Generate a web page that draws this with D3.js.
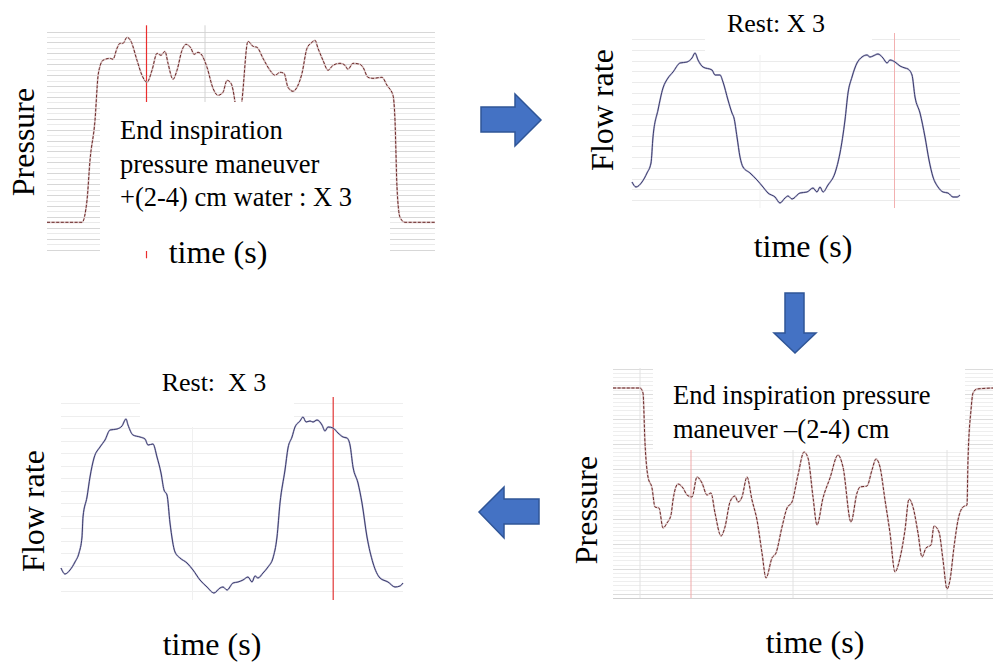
<!DOCTYPE html>
<html>
<head>
<meta charset="utf-8">
<script src="https://cdn.jsdelivr.net/npm/d3@7"></script>
<style>
  body { margin: 0; background: #fff; }
  svg { display: block; }
  text { font-family: "Liberation Serif", "Times New Roman", serif; fill: #000; }
</style>
</head>
<body>
<svg id="fig" width="994" height="663"></svg>
<script>
// ---- Recorded traces (time in samples, signal in arbitrary units) ----

// Pressure during the positive end-inspiration maneuver, +(2-4) cm water
const posTime = [0,35,40,43,48,51,53,56,63,66,70,73,76,80,84,90,95,100,105,110,114,118,121,126,130,135,139,144,147,151,155,160,166,171,176,180,184,188,191,195,201,206,210,216,223,228,233,237,241,246,250,255,260,265,268,271,276,281,286,293,298,301,306,313,316,321,326,335,340,346,348,350,353,358,370,388];
const posPressure = [0,0,22,62,102,146,156,162,164,163,174,179,179,185,181,162,147,140,152,169,167,171,159,143,152,172,178,174,168,170,167,155,134,127,130,142,139,120,92,122,181,176,175,164,152,147,150,149,135,131,135,149,174,180,182,174,162,152,157,159,157,153,159,158,155,145,144,145,137,127,102,35,5,0,0,0];

// Flow rate at rest, first recording
const restATime = [0,4,10,15,19,21,26,31,36,41,48,55,60,63,66,71,80,83,88,91,96,100,102,105,108,111,118,125,131,136,143,148,153,156,160,168,175,181,185,188,191,196,203,208,213,216,220,225,230,235,238,241,246,251,255,258,263,268,273,276,280,283,288,293,297,301,306,311,316,321,325,328];
const restAFlow = [-52,-57,-52,-43,-33,-7,20,42,52,58,67,68,72,77,70,63,60,55,55,48,30,17,12,-7,-27,-37,-43,-50,-57,-63,-67,-73,-68,-66,-69,-63,-62,-58,-62,-57,-62,-55,-43,-23,10,37,53,67,73,75,73,74,76,72,67,70,68,64,62,61,55,33,17,-7,-30,-47,-57,-62,-63,-67,-67,-65];

// Pressure during the negative end-inspiration maneuver, -(2-4) cm
const negTime = [0,27,30,32,35,39,42,46,50,54,58,60,65,70,74,79,84,89,94,98,102,108,112,117,122,125,129,134,139,144,149,153,159,163,169,174,179,185,191,195,200,204,210,217,225,230,238,244,247,254,259,263,267,272,277,282,287,292,296,300,305,309,313,318,321,326,330,334,337,341,345,350,354,355,358,360,364,380];
const negPressure = [210,210,205,155,121,110,91,90,70,75,83,98,114,110,103,101,121,115,103,105,85,62,71,96,102,96,101,121,98,78,45,20,40,45,71,90,96,123,146,140,101,73,100,120,143,131,76,105,111,112,128,139,131,98,65,26,40,68,99,91,65,41,50,53,72,66,38,9,18,51,78,91,93,138,188,205,209,210];

// Flow rate at rest, second recording
const restBTime = [0,4,9,14,18,21,22,26,29,33,39,44,49,56,61,65,67,72,79,84,87,92,96,100,103,106,109,114,119,126,132,139,146,153,159,162,166,172,177,182,187,191,194,197,202,207,212,216,219,224,227,231,234,239,242,245,249,252,256,261,264,267,272,277,282,286,289,292,297,301,306,312,319,327,334,339,342];
const restBFlow = [-68,-74,-70,-62,-53,-37,-17,3,23,42,53,60,70,71,74,81,75,65,63,61,55,56,43,27,10,5,-23,-52,-58,-63,-70,-80,-87,-93,-88,-87,-90,-83,-82,-80,-77,-82,-76,-78,-73,-67,-58,-37,-3,30,52,63,73,79,83,78,79,78,80,75,69,73,72,67,63,62,55,33,17,-3,-37,-63,-78,-82,-87,-86,-83];

// Texts
const boxTextPos = ["End inspiration", "pressure maneuver", "+(2-4) cm water : X 3"];
const boxTextNeg = ["End inspiration pressure", "maneuver \u2013(2-4) cm"];
const restTitleA = "Rest: X 3";
const restTitleB = "Rest:  X 3";
const timeLabel = "time (s)";
const pressureLabel = "Pressure";
const flowLabel = "Flow rate";

// ---- Drawing ----
const svg = d3.select("#fig");

const pressureStyle = { halo: "#dcc6c6", color: "#6a2828", dash: "3 1.6" };
const flowStyle = { halo: "#bdbdd6", color: "#3a3a6c", dash: null };

function drawPanel(p) {
  const x = d3.scaleLinear().domain(p.xDomain).range(p.xRange);
  const y = d3.scaleLinear().domain(p.yDomain).range(p.yRange);
  const g = svg.append("g");

  // horizontal chart-paper rules
  const rules = d3.range(p.grid.count).map(k => p.grid.start + k * p.grid.step);
  rules.forEach((v, k) => {
    const segs = k < (p.grid.partialTop || 0) ? p.grid.partialSegs : [p.xDomain];
    segs.forEach(s => {
      g.append("line")
        .attr("x1", x(s[0])).attr("x2", x(s[1]))
        .attr("y1", Math.round(y(v)) + 0.5).attr("y2", Math.round(y(v)) + 0.5)
        .attr("stroke", p.grid.color(k)).attr("stroke-width", 1)
        .attr("shape-rendering", "crispEdges");
    });
  });

  if (p.axisLine) {
    g.append("line")
      .attr("x1", x(p.xDomain[0])).attr("x2", x(p.xDomain[1]))
      .attr("y1", Math.round(y(p.yDomain[0])) + 0.5).attr("y2", Math.round(y(p.yDomain[0])) + 0.5)
      .attr("stroke", p.axisLine).attr("shape-rendering", "crispEdges");
  }

  // vertical markers (time cursors)
  p.markers.forEach(m => {
    g.append("line")
      .attr("x1", x(m.t)).attr("x2", x(m.t))
      .attr("y1", y(m.v0)).attr("y2", y(m.v1))
      .style("stroke", m.color).style("stroke-width", m.width || 1);
  });

  // the trace
  const data = d3.zip(p.time, p.values);
  const line = d3.line().x(d => x(d[0])).y(d => y(d[1])).curve(d3.curveMonotoneX);
  g.append("path").datum(data).attr("d", line)
    .attr("fill", "none").attr("stroke", p.style.halo).attr("stroke-width", 1.8);
  const tr = g.append("path").datum(data).attr("d", line)
    .attr("fill", "none").attr("stroke", p.style.color).attr("stroke-width", 1);
  if (p.style.dash) tr.attr("stroke-dasharray", p.style.dash);

  // white caption box laid over the record
  if (p.box) {
    g.append("rect").attr("x", p.box.x).attr("y", p.box.y)
      .attr("width", p.box.w).attr("height", p.box.h).attr("fill", "#fff");
    p.box.lines.forEach((t, i) => {
      g.append("text").attr("x", p.box.tx).attr("y", p.box.ty + i * p.box.lh)
        .attr("font-size", p.box.fs).text(t);
    });
  }

  // axis titles
  g.append("text").attr("x", p.time_lbl[0]).attr("y", p.time_lbl[1])
    .attr("text-anchor", "middle").attr("font-size", 32).text(timeLabel);
  g.append("text")
    .attr("transform", `translate(${p.y_lbl[0]},${p.y_lbl[1]}) rotate(-90)`)
    .attr("text-anchor", "middle").attr("font-size", p.y_lbl[3]).text(p.y_lbl[2]);
  if (p.title) {
    g.append("text").attr("x", p.title[0]).attr("y", p.title[1])
      .attr("text-anchor", "middle").attr("font-size", 26)
      .style("white-space", "pre").text(p.title[2]);
  }
}

// Panel: positive pressure maneuver (top left)
drawPanel({
  xDomain: [0, 388], xRange: [47, 435],
  yDomain: [0, 200], yRange: [222.3, 22.3],
  time: posTime, values: posPressure, style: pressureStyle,
  grid: { start: 190.75, step: -5.45, count: 41, color: k => (k % 2 ? "#eaeaea" : "#d7d7d7") },
  markers: [
    { t: 158, v0: 197, v1: -30, color: "#d2d2d2" },
    { t: 99.5, v0: 197, v1: -36, color: "rgb(235,45,45)", width: 1.2 }
  ],
  box: { x: 100, y: 102, w: 290, h: 149, tx: 120, ty: 139, lh: 33.5, fs: 26.5, lines: boxTextPos },
  time_lbl: [218, 263],
  y_lbl: [34, 142, pressureLabel, 32]
});

// Panel: rest flow (top right)
drawPanel({
  xDomain: [0, 328], xRange: [632, 960],
  yDomain: [-70, 90], yRange: [200, 40],
  time: restATime, values: restAFlow, style: flowStyle,
  grid: { start: 90.7, step: -10.71, count: 16, partialTop: 2, partialSegs: [[0, 73], [240, 328]],
          color: k => "#ebebeb" },
  markers: [
    { t: 128, v0: 75, v1: -78, color: "#f1f1f1" },
    { t: 262.5, v0: 97, v1: -78, color: "#f2b0b0" }
  ],
  time_lbl: [803, 257],
  y_lbl: [613, 110, flowLabel, 32],
  title: [776, 31.5, restTitleA]
});

// Panel: negative pressure maneuver (bottom right)
drawPanel({
  xDomain: [0, 380], xRange: [613, 993],
  yDomain: [0, 230], yRange: [598, 368],
  time: negTime, values: negPressure, style: pressureStyle,
  grid: { start: 229.35, step: -4.17, count: 55, color: k => (k % 6 === 0 ? "#dcdcdc" : "#eeeeee") },
  axisLine: "#cfcfcf",
  markers: [
    { t: 27, v0: 230, v1: 0, color: "#e2e2e2" },
    { t: 180, v0: 148, v1: 0, color: "#e2e2e2" },
    { t: 334, v0: 148, v1: 0, color: "#e2e2e2" },
    { t: 78, v0: 148, v1: 0, color: "#efaaaa" }
  ],
  box: { x: 653, y: 360, w: 312, h: 90, tx: 673, ty: 404, lh: 33.5, fs: 26.5, lines: boxTextNeg },
  time_lbl: [815, 653],
  y_lbl: [597, 510, pressureLabel, 32]
});

// Panel: rest flow (bottom left)
drawPanel({
  xDomain: [0, 342], xRange: [61, 403],
  yDomain: [-100, 110], yRange: [600, 390],
  time: restBTime, values: restBFlow, style: flowStyle,
  grid: { start: 96.7, step: -12.49, count: 16, partialTop: 2, partialSegs: [[0, 79], [233, 342]],
          color: k => "#eeeeee" },
  markers: [
    { t: 131.5, v0: 73, v1: -100, color: "#f0f0f0" },
    { t: 272.2, v0: 103, v1: -100, color: "rgb(225,55,55)", width: 1.2 }
  ],
  time_lbl: [212, 655],
  y_lbl: [44, 511, flowLabel, 32],
  title: [214, 391, restTitleB]
});

// ---- Block arrows linking the four recordings ----
const arrowFill = "#4472c4", arrowStroke = "#2f5597";
const arrows = [
  // right
  [[481, 107], [515, 107], [515, 94], [541, 120], [515, 146], [515, 132], [481, 132]],
  // down
  [[785, 293], [804, 293], [804, 333], [816, 333], [795, 353], [774, 333], [785, 333]],
  // left
  [[539, 499], [504, 499], [504, 487], [479, 512], [504, 538], [504, 524], [539, 524]]
];
svg.append("g").selectAll("polygon").data(arrows).join("polygon")
  .attr("points", d => d.map(p => p.join(",")).join(" "))
  .attr("fill", arrowFill).attr("stroke", arrowStroke).attr("stroke-width", 1.5)
  .attr("stroke-linejoin", "miter");
</script>
</body>
</html>
